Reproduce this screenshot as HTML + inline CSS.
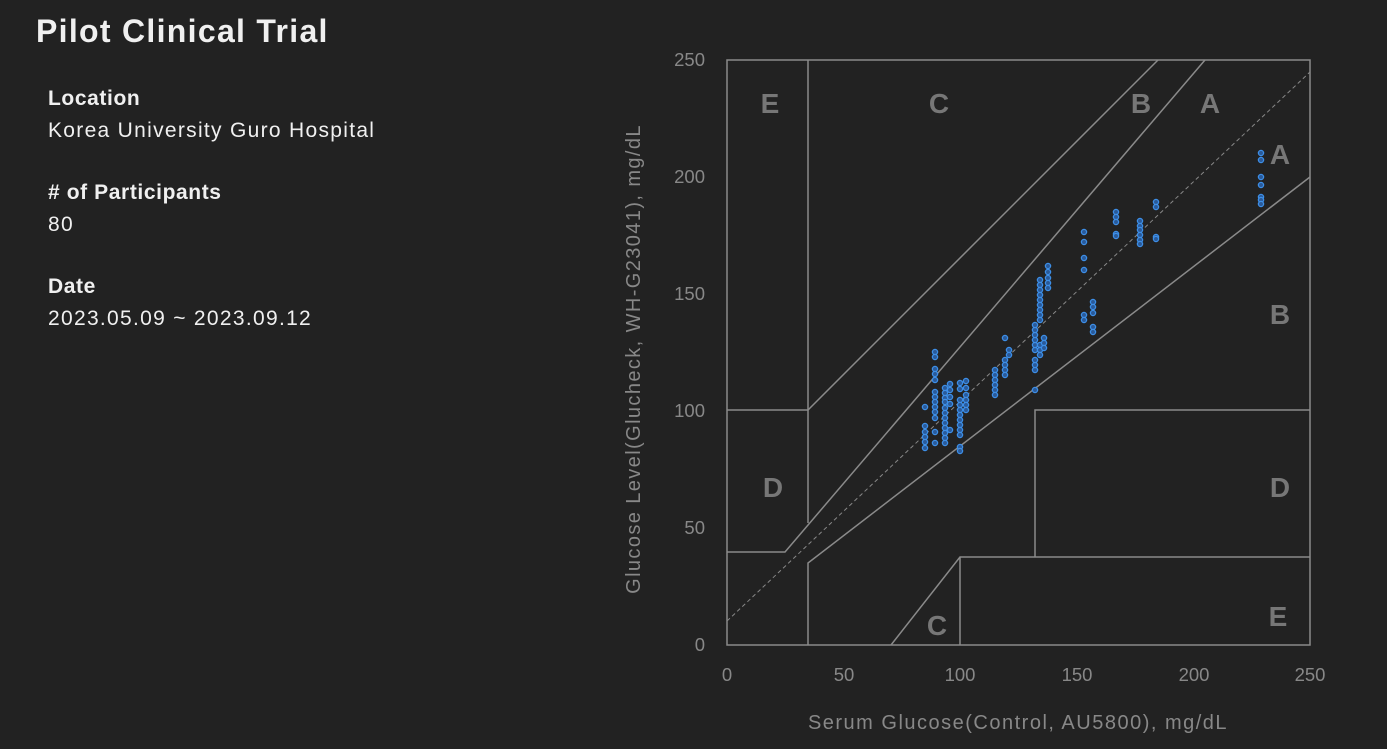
<!DOCTYPE html>
<html><head><meta charset="utf-8"><style>
body{margin:0;width:1387px;height:749px;background:#222222;overflow:hidden;font-family:"Liberation Sans",sans-serif;color:#f0f0f0}
.t{position:absolute;left:36px;top:13px;font-size:32px;font-weight:bold;letter-spacing:1.3px}
.h{position:absolute;left:48px;font-size:21px;font-weight:bold;letter-spacing:0.6px}
.v{position:absolute;left:48px;font-size:21px;letter-spacing:1.3px}
svg{position:absolute;left:0;top:0}
</style></head><body>
<div class="t">Pilot Clinical Trial</div>
<div class="h" style="top:87px">Location</div>
<div class="v" style="top:119px">Korea University Guro Hospital</div>
<div class="h" style="top:181px"># of Participants</div>
<div class="v" style="top:213px">80</div>
<div class="h" style="top:275px">Date</div>
<div class="v" style="top:307px">2023.05.09 ~ 2023.09.12</div>
<svg width="1387" height="749" font-family="Liberation Sans, sans-serif">
<g stroke="#8a8a8a" stroke-width="1.5" fill="none">
<rect x="727" y="60" width="583" height="585"/>
<polyline points="808,60 808,523"/>
<polyline points="727,410 808,410 1158,60"/>
<polyline points="727,552 785,552 1205,60"/>
<polyline points="808,645 808,563 1310,177"/>
<polyline points="891,645 960,557 1310,557"/>
<line x1="960" y1="557" x2="960" y2="645"/>
<polyline points="1310,410 1035,410 1035,557"/>
</g>
<line x1="727" y1="621" x2="1310" y2="72" stroke="#888" stroke-width="1" stroke-dasharray="4,3"/>
<g fill="#777" font-size="28" font-weight="bold" text-anchor="middle">
<text x="770" y="113">E</text><text x="939" y="113">C</text><text x="1141" y="113">B</text><text x="1210" y="113">A</text>
<text x="1280" y="164">A</text><text x="1280" y="324">B</text><text x="773" y="497">D</text><text x="1280" y="497">D</text>
<text x="937" y="635">C</text><text x="1278" y="626">E</text>
</g>
<g fill="#888" font-size="18.5" text-anchor="end">
<text x="705" y="66">250</text><text x="705" y="183">200</text><text x="705" y="300">150</text><text x="705" y="417">100</text><text x="705" y="534">50</text><text x="705" y="651">0</text>
</g>
<g fill="#888" font-size="18.5" text-anchor="middle">
<text x="727" y="681">0</text><text x="844" y="681">50</text><text x="960" y="681">100</text><text x="1077" y="681">150</text><text x="1194" y="681">200</text><text x="1310" y="681">250</text>
<text x="1018" y="729" font-size="20" letter-spacing="1.5">Serum Glucose(Control, AU5800), mg/dL</text>
<text transform="translate(640,359) rotate(-90)" font-size="20" letter-spacing="1.4">Glucose Level(Glucheck, WH-G23041), mg/dL</text>
</g>
<g id="pts" fill="#2a5a99" stroke="#3d8fe8" stroke-width="1.3"></g>
</svg>
<script>
var d={925:[407,426,432,437,442,448],935:[352,357,369,374,380,392,397,402,407,412,418,432,443],945:[388,393,398,402,408,413,418,423,428,433,438,443],950:[384,390,397,404,430],960:[383,389,400,405,410,415,420,425,430,435,447,451],966:[381,388,395,400,405,410],995:[370,375,380,385,390,395],1005:[338,360,365,370,375],1009:[350,355],1035:[390,370,365,360,350,345,340,335,330,325],1040:[280,285,290,295,300,305,310,315,320,345,350,355],1044:[338,343,348],1048:[266,272,278,283,288],1084:[232,242,258,270,315,320],1093:[302,307,313,327,332],1116:[212,217,222,234,236],1140:[221,226,230,235,240,244],1156:[202,207,237,239],1261:[153,160,177,185,197,200,204]};
var g=document.getElementById('pts'),s='';
for(var x in d)d[x].forEach(function(y){s+='<circle cx="'+x+'" cy="'+y+'" r="2.6"/>';});
g.innerHTML=s;
</script>
</body></html>
